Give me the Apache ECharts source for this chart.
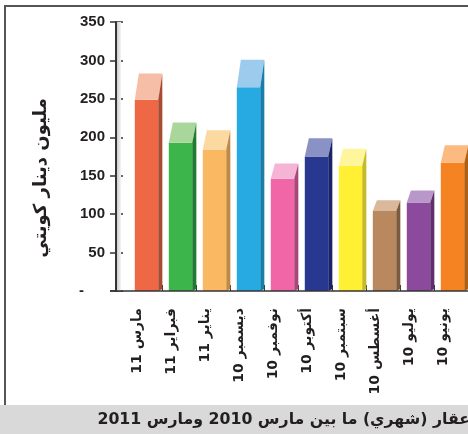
<!DOCTYPE html>
<html><head><meta charset="utf-8">
<script src="https://cdn.jsdelivr.net/npm/echarts@6/dist/echarts.min.js"></script>
<style>html,body{margin:0;padding:0;background:#fff;}#c{width:468px;height:434px;}</style>
</head><body><div id="c"></div>
<script>
const categories = ['مارس 11','فبراير 11','يناير 11','ديسمبر 10','نوفمبر 10','أكتوبر 10','سبتمبر 10','أغسطس 10','يوليو 10','يونيو 10'];
const values = [249, 193, 184, 265, 146, 175, 163, 104, 115, 167];
const frontColors = ['#ef6846','#3cb54a','#fbb862','#27aae1','#f066a6','#283891','#fff033','#b9885f','#8c4a9c','#f58322'];
const capColors   = ['#f7bea7','#a9d79b','#fdd9a2','#9ccbed','#f6b4d4','#8991c5','#fff59c','#d9b99a','#ba97ca','#fbba7f'];
const sideColors  = ['#a84b31','#1f7b30','#c08a44','#177ea9','#a9477a','#1a2268','#c6bb22','#7b5b3f','#5d2f6c','#b35f12'];
const yTicks = [0, 50, 100, 150, 200, 250, 300, 350];
const yTitle = 'مليون دينار كويتي';
const caption = 'عقار (شهري) ما بين مارس 2010 ومارس 2011';

const chart = echarts.init(document.getElementById('c'), null, {renderer: 'canvas'});
const lab = {fontFamily: 'Liberation Sans, Arial, sans-serif', fontWeight: 'bold', fontSize: 15, color: '#231f20'};
const yAxisBase = {
  type: 'value', min: yTicks[0], max: yTicks[yTicks.length - 1], interval: 50,
  position: 'left', offset: 12, splitLine: {show: false}
};
chart.setOption({
  animation: false,
  backgroundColor: '#ffffff',
  grid: {left: 128, right: -3, top: 22, bottom: 143, containLabel: false},
  xAxis: {
    type: 'category', data: categories,
    axisLine: {show: false},
    axisTick: {show: true, inside: true, length: 6, interval: function (idx) { return idx !== 0; },
      lineStyle: {color: '#333', width: 1}},
    axisLabel: {
      interval: 0, rotate: 90, margin: 17,
      fontFamily: 'DejaVu Sans, sans-serif', fontWeight: 'bold', fontSize: 14, color: '#231f20',
      verticalAlign: 'bottom', lineHeight: 15
    }
  },
  yAxis: [
    Object.assign({}, yAxisBase, {
      axisLine: {show: true, lineStyle: {color: '#333', width: 2}},
      axisTick: {show: true, length: 6, lineStyle: {color: '#333', width: 1.5}},
      axisLabel: Object.assign({}, lab, {
        margin: 11,
        formatter: v => v === 0 ? '{d|-}' : String(v),
        rich: {d: Object.assign({}, lab, {padding: [0, 21, 0, 0]})}
      })
    }),
    Object.assign({}, yAxisBase, {
      axisLine: {show: false},
      axisTick: {show: true, inside: true, length: 7, lineStyle: {color: '#333', width: 1.5}},
      axisLabel: {show: false}
    })
  ],
  series: [{
    type: 'custom',
    data: values.map((v, i) => [i, v]),
    encode: {x: 0, y: 1},
    renderItem: function (params, api) {
      const i = api.value(0), v = api.value(1);
      const p0 = api.coord([i, 0]);
      const p1 = api.coord([i, v]);
      const band = api.size([1, 0])[0];
      const fl = p0[0] - band * 0.5 + band * 0.2;
      const w = band * 0.69;
      const s = band * 0.12;
      const h = p0[1] - p1[1];
      const c = h * 0.136;
      return {
        type: 'group',
        children: [
          {type: 'rect', shape: {x: fl, y: p1[1], width: w, height: h}, style: {fill: frontColors[i]}},
          {type: 'polygon', shape: {points: [[fl, p1[1]], [fl + w, p1[1]], [fl + w + s, p1[1] - c], [fl + s, p1[1] - c]]}, style: {fill: capColors[i]}},
          {type: 'polygon', shape: {points: [[fl + w, p1[1]], [fl + w + s, p1[1] - c], [fl + w + s, p0[1] - 2], [fl + w, p0[1]]]}, style: {fill: sideColors[i]}}
        ]
      };
    }
  }]
});

const y0 = chart.convertToPixel({yAxisIndex: 0}, 0);
const yTop = chart.convertToPixel({yAxisIndex: 0}, yTicks[yTicks.length - 1]);
chart.setOption({
  graphic: [
    {type: 'rect', shape: {x: 117, y: yTop, width: 4, height: y0 - yTop},
      style: {fill: new echarts.graphic.LinearGradient(0, 0, 1, 0, [{offset: 0, color: '#cfcfcf'}, {offset: 1, color: '#f4f4f4'}])}, z: 1},
    {type: 'line', shape: {x1: 110, y1: y0, x2: 468, y2: y0}, style: {stroke: '#333', lineWidth: 1.5}, z: 10},
    {type: 'line', shape: {x1: 5, y1: 6, x2: 468, y2: 6}, style: {stroke: '#555', lineWidth: 2}},
    {type: 'line', shape: {x1: 5, y1: 5, x2: 5, y2: 405}, style: {stroke: '#555', lineWidth: 2}},
    {type: 'rect', shape: {x: 0, y: 405, width: 468, height: 29}, style: {fill: '#d9d9d9'}},
    {type: 'text', x: 470, y: 420, style: {text: caption, align: 'right', verticalAlign: 'middle',
      font: 'bold 15.75px "DejaVu Sans", sans-serif', fill: '#231f20'}},
    {type: 'text', x: 41, y: 178, rotation: Math.PI / 2, style: {text: yTitle, align: 'center', verticalAlign: 'middle',
      font: 'bold 18px "DejaVu Sans", sans-serif', fill: '#231f20'}}
  ]
});
</script></body></html>
